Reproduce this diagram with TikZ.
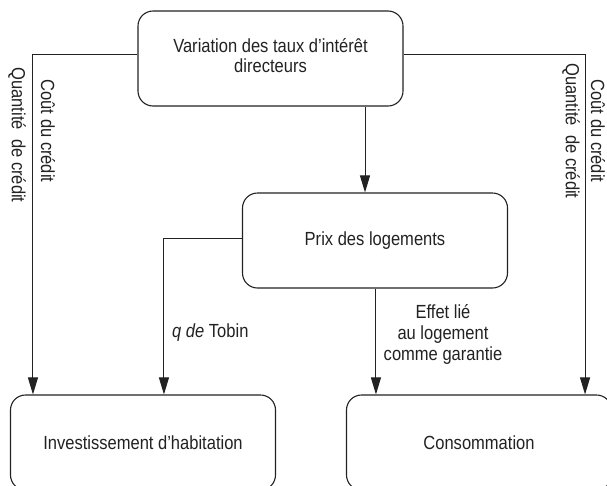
\documentclass[tikz,border=0pt]{standalone}
\usepackage{fontspec}
\setmainfont{Liberation Sans}[FakeStretch=0.87]
\usetikzlibrary{arrows.meta}
\definecolor{ink}{HTML}{222222}
\tikzset{
  box/.style={draw=ink, line width=1.1pt, rounded corners=15pt, minimum width=265pt, minimum height=95pt, inner sep=0pt, text=ink, align=center, font=\fontsize{19}{21}\selectfont},
  arr/.style={draw=ink, line width=1pt, -{Triangle[length=17pt,width=10pt]}},
  lbl/.style={text=ink, font=\fontsize{19}{21}\selectfont, inner sep=0pt},
  vlbl/.style={lbl, rotate=-90}
}
\begin{document}
\begin{tikzpicture}[x=1pt,y=1pt]
\useasboundingbox (0,0) rectangle (607,-485);
\clip (0,0) rectangle (607,-485);
\node[box] (top) at (270.5,-58.5) {\raisebox{-3pt}{\begin{tabular}{@{}c@{}}Variation des taux d’intérêt\\[-1pt]directeurs\end{tabular}}};
\node[box] (prix) at (375,-240.5) {Prix des logements};
\node[box] (inv) at (143,-442.5) {Investissement d’habitation};
\node[box] (cons) at (479,-442.5) {Consommation};
\draw[arr] ([yshift=4.5pt]top.west) -| ([xshift=23pt]inv.north west);
\draw[arr] ([yshift=4.5pt]top.east) -| ([xshift=-27pt]cons.north east);
\draw[arr] ([xshift=-10pt]prix.north |- top.south) -- ([xshift=-10pt]prix.north);
\draw[arr] ([yshift=2.5pt]prix.west) -| ([xshift=154pt]inv.north west);
\draw[arr] ([xshift=30pt]cons.north west |- prix.south) -- ([xshift=30pt]cons.north west);
\node[vlbl] (c1) at (48,-131) {Coût du crédit};
\node[vlbl] (q1) at (17,-135) {Quantité\ \ de crédit};
\node[vlbl] (c2) at (598,-131) {Coût du crédit};
\node[vlbl] (q2) at (571,-131) {Quantité\ \ de crédit};
\node[lbl, anchor=west] (tobin) at (172,-333) {\textit{q de} Tobin};
\node[lbl, align=center] (effet) at (443,-334) {Effet lié\\au logement\\comme garantie};
\end{tikzpicture}
\end{document}
